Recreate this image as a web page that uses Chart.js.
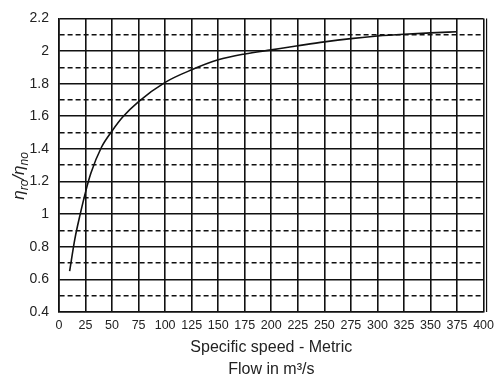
<!DOCTYPE html>
<html lang="en">
<head>
  <meta charset="UTF-8" />
  <title>Specific speed - efficiency ratio</title>
  <script src="https://cdn.jsdelivr.net/npm/chart.js"></script>
  <style>
    body {
      margin: 0;
      background: #fff;
    }

    .chart-box {
      width: 500px;
      height: 381px;
    }
  </style>
</head>
<body>

  <div class="chart-box">
    <canvas id="speedChart"></canvas>
  </div>

  <script>
    // values
    const specificSpeed = [10, 15, 20, 25, 30, 40, 50, 60, 75, 100, 125, 150, 175, 200, 225, 250, 275, 300, 325, 350, 375];
    const effRatio = [0.65, 0.85, 1.0, 1.135, 1.25, 1.41, 1.51, 1.595, 1.69, 1.808, 1.885, 1.946, 1.982, 2.007, 2.032, 2.056, 2.076, 2.092, 2.103, 2.111, 2.118];

    const xTitleLines = ['Specific speed - Metric', 'Flow in m³/s'];

    // y title with subscripts, drawn rotated left of the axis
    const yTitlePlugin = {
      id: 'yTitle',
      afterDraw(chart) {
        const ctx = chart.ctx;
        ctx.save();
        ctx.translate(19, 176);
        ctx.rotate(-Math.PI / 2);
        ctx.fillStyle = '#222';
        ctx.textBaseline = 'alphabetic';
        const parts = [
          ['η', 17, 0], ['ro', 12, 4], ['/', 17, 0], ['η', 17, 0], ['no', 12, 4]
        ];
        let w = 0;
        parts.forEach(p => {
          ctx.font = `italic ${p[1]}px "Liberation Sans", Arial, sans-serif`;
          w += ctx.measureText(p[0]).width;
        });
        let x = -w / 2;
        parts.forEach(p => {
          ctx.font = `italic ${p[1]}px "Liberation Sans", Arial, sans-serif`;
          ctx.fillText(p[0], x, 5 + p[2]);
          x += ctx.measureText(p[0]).width;
        });
        ctx.restore();
      }
    };

    // second rule just outside the right edge, as in the printed chart
    const rightRulePlugin = {
      id: 'rightRule',
      afterDraw(chart) {
        const a = chart.chartArea;
        const ctx = chart.ctx;
        ctx.save();
        ctx.strokeStyle = '#111';
        ctx.lineWidth = 1.2;
        ctx.beginPath();
        ctx.moveTo(a.right + 3, a.top);
        ctx.lineTo(a.right + 3, a.bottom);
        ctx.stroke();
        ctx.restore();
      }
    };

    new Chart(document.getElementById('speedChart'), {
      type: 'line',
      data: {
        datasets: [{
          data: specificSpeed.map((s, i) => ({ x: s, y: effRatio[i] })),
          borderColor: '#111',
          borderWidth: 1.6,
          pointRadius: 0,
          cubicInterpolationMode: 'monotone',
          fill: false
        }]
      },
      options: {
        responsive: true,
        maintainAspectRatio: false,
        animation: false,
        layout: { padding: { left: 0, right: 13, top: 11, bottom: 0 } },
        plugins: {
          legend: { display: false },
          tooltip: { enabled: false }
        },
        scales: {
          x: {
            type: 'linear',
            min: 0,
            max: 400,
            afterFit(scale) { scale.height = 69; },
            ticks: {
              stepSize: 25,
              padding: 6,
              maxRotation: 0,
              autoSkip: false,
              color: '#222',
              font: { family: '"Liberation Sans", Arial, sans-serif', size: 12.5 }
            },
            grid: { color: '#111', lineWidth: 1.6, drawTicks: false },
            border: { color: '#111', width: 1.6 },
            title: {
              display: true,
              text: xTitleLines,
              color: '#222',
              padding: { top: 2, bottom: 0 },
              font: { family: '"Liberation Sans", Arial, sans-serif', size: 16, lineHeight: 1.4 }
            }
          },
          y: {
            min: 0.4,
            max: 2.2,
            afterFit(scale) { scale.width = 59; },
            ticks: {
              stepSize: 0.1,
              padding: 10,
              autoSkip: false,
              color: '#222',
              font: { family: '"Liberation Sans", Arial, sans-serif', size: 14 },
              callback: v => {
                const t = Math.round(v * 10);
                return t % 2 === 0 ? String(t / 10) : '';
              }
            },
            grid: { color: '#111', lineWidth: 1.6, drawTicks: false },
            border: {
              color: '#111',
              width: 1.6,
              dash: ctx => (Math.round(ctx.tick.value * 10) % 2 === 0 ? [] : [5, 3])
            }
          }
        }
      },
      plugins: [yTitlePlugin, rightRulePlugin]
    });
  </script>

</body>
</html>
